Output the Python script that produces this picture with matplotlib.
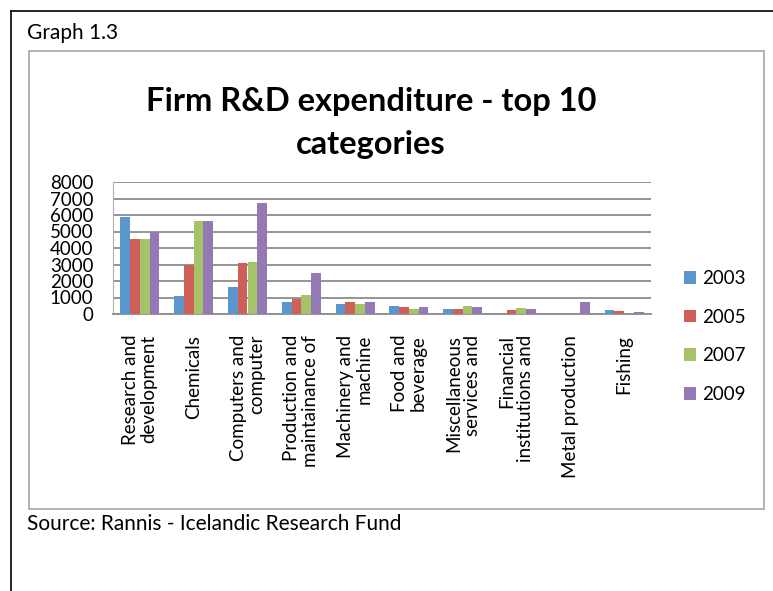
import numpy as np
import matplotlib
matplotlib.use("Agg")
import matplotlib.pyplot as plt
from matplotlib.lines import Line2D
from matplotlib.patches import Rectangle

plt.rcParams["font.family"] = ["Lato", "DejaVu Sans"]

# R&D spend per category (millions ISK)
categories = [
    "Research and\ndevelopment",
    "Chemicals",
    "Computers and\ncomputer",
    "Production and\nmaintainance of",
    "Machinery and\nmachine",
    "Food and\nbeverage",
    "Miscellaneous\nservices and",
    "Financial\ninstitutions and",
    "Metal production",
    "Fishing",
]
years = ["2003", "2005", "2007", "2009"]
v2003 = [5850, 1070, 1640, 730, 600, 500, 280, 20, 10, 230]
v2005 = [4520, 2970, 3070, 910, 750, 440, 280, 220, 10, 180]
v2007 = [4520, 5650, 3170, 1170, 590, 300, 500, 380, 20, 10]
v2009 = [4970, 5650, 6750, 2500, 750, 420, 440, 320, 700, 100]
yticks = [0, 1000, 2000, 3000, 4000, 5000, 6000, 7000, 8000]

colors = ["#5B96CF", "#CF6059", "#A6C36A", "#9479B5"]
series = [v2003, v2005, v2007, v2009]

W, H = 773, 591
fig = plt.figure(figsize=(W / 100, H / 100), dpi=100)

# page frame and chart frame
fig.add_artist(Line2D([10.5 / W, 1], [1 - 10.5 / H, 1 - 10.5 / H], color="black", lw=1.2))
fig.add_artist(Line2D([10.5 / W, 10.5 / W], [0, 1 - 10.5 / H], color="black", lw=1.2))
fig.add_artist(Rectangle((29 / W, 1 - 508.5 / H), (763.5 - 29) / W, (508.5 - 50.5) / H,
                         transform=fig.transFigure, fill=False, ec="#a6a6a6", lw=1.2))

fig.text(27 / W, 1 - 33 / H, "Graph 1.3", fontsize=15, va="center", ha="left")
fig.text(27 / W, 1 - 524 / H, "Source: Rannis - Icelandic Research Fund", fontsize=15,
         va="center", ha="left")
fig.text(371 / W, 1 - 123 / H, "Firm R&D expenditure - top 10\ncategories", fontsize=23.5,
         fontweight="bold", ha="center", va="center", linespacing=1.62)

ax = fig.add_axes([113 / W, 1 - 314 / H, (651 - 113) / W, (314 - 182) / H])
x = np.arange(len(categories))
bw = 0.181
for i, (yr, vals) in enumerate(zip(years, series)):
    ax.bar(x + (i - 1.5) * bw, vals, width=bw, color=colors[i], label=yr, zorder=3)

ax.set_xlim(-0.5, len(categories) - 0.5)
ax.set_ylim(0, 8000)
ax.set_yticks(yticks)
ax.set_yticklabels([str(t) for t in yticks], fontsize=13.5)
ax.yaxis.grid(True, color="#8c8c8c", lw=1.3, zorder=0)
ax.set_xticks(x)
ax.set_xticklabels(categories, rotation=90, fontsize=13.5, va="top", ha="center",
                   multialignment="right", linespacing=1.12)
ax.tick_params(axis="both", length=0)
ax.tick_params(axis="y", pad=14)
ax.tick_params(axis="x", pad=15)
for s in ["top", "right"]:
    ax.spines[s].set_visible(False)
ax.spines["left"].set_color("#b0b0b0")
ax.spines["bottom"].set_color("#8c8c8c")
ax.spines["bottom"].set_linewidth(1.3)

ax.legend(loc="center left", bbox_to_anchor=(684 / W, 1 - 336.5 / H),
          bbox_transform=fig.transFigure, frameon=False, fontsize=13.5,
          handlelength=0.65, handleheight=0.65, handletextpad=0.3,
          labelspacing=1.15, borderpad=0, borderaxespad=0)

fig.savefig("out.png", dpi=100)
